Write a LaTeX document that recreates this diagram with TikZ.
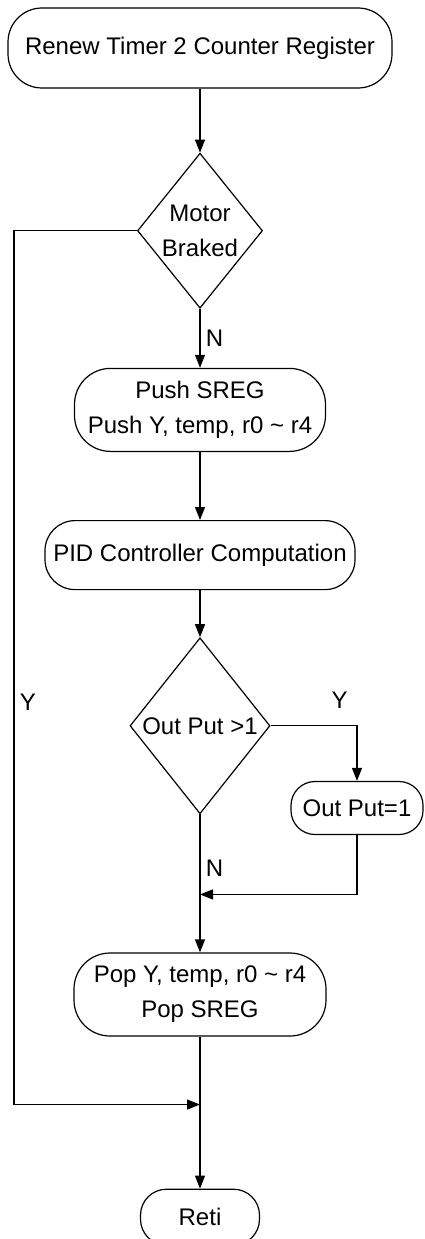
\documentclass[tikz,border=0pt]{standalone}
\usepackage{fontspec}
\setmainfont{Liberation Sans}
\usetikzlibrary{arrows.meta,positioning,shapes.geometric,calc}
\tikzset{
  stepbox/.style={draw, rounded corners=26pt, align=center, line width=1.2pt,
    inner sep=2pt, font=\fontsize{24}{35}\selectfont},
  testbox/.style={draw, diamond, aspect=0.8, align=center, line width=1.2pt,
    inner sep=0pt, font=\fontsize{24}{35}\selectfont},
  flowarrow/.style={-{Triangle[length=13pt,width=10pt]}, line width=1.2pt},
  branchlabel/.style={font=\fontsize{24}{28}\selectfont}
}

\begin{document}
\begin{tikzpicture}[x=1pt, y=1pt]
    \useasboundingbox (0,0) rectangle (424,-1239);
    \node[stepbox, rounded corners=34pt, minimum width=384pt, minimum height=80pt] (renew) at (200,-48) {Renew Timer 2 Counter Register};
    \node[testbox, minimum width=125pt, minimum height=155pt, below=64pt of renew] (braked) {Motor\\Braked};
    \node[stepbox, rounded corners=36pt, minimum width=251pt, minimum height=83pt, below=59pt of braked] (push) {Push SREG\\Push Y, temp, r0 \textasciitilde{} r4};
    \node[stepbox, rounded corners=30pt, minimum width=310pt, minimum height=69pt, below=68pt of push] (pid) {PID Controller Computation};
    \node[testbox, minimum width=140pt, minimum height=176pt, below=47pt of pid] (outgt) {Out Put {>}1};
    \node[stepbox, rounded corners=24pt, minimum width=132pt, minimum height=53pt] (outset) at (357,-808) {Out Put=1};
    \node[stepbox, rounded corners=36pt, minimum width=252pt, minimum height=83pt, below=138pt of outgt] (pop) {Pop Y, temp, r0 \textasciitilde{} r4\\Pop SREG};
    \node[stepbox, minimum width=119pt, minimum height=56pt, below=152pt of pop] (reti) {Reti};
    \coordinate (outjoin) at ($(outgt.south)!0.58!(pop.north)$);
    \coordinate (retjoin) at ($(pop.south)!0.447!(reti.north)$);
    % main chain
    \draw[flowarrow] (renew) -- (braked);
    \draw[flowarrow] (braked) -- node[branchlabel, right=2pt] {N} (push);
    \draw[flowarrow] (push) -- (pid);
    \draw[flowarrow] (pid) -- (outgt);
    \draw[flowarrow] (outgt) -- node[branchlabel, pos=0.39, right=2pt] {N} (pop);
    \draw[flowarrow] (pop) -- (reti);
    % branches
    \draw[flowarrow] (outgt.east) -| node[branchlabel, pos=0.4, above=13pt] {Y} (outset.north);
    \draw[flowarrow] (outset.south) |- (outjoin);
    \draw[flowarrow] (braked.west) -- ++(-123pt,0) |- node[branchlabel, pos=0.27, right=2pt] {Y} (retjoin);
\end{tikzpicture}
\end{document}
